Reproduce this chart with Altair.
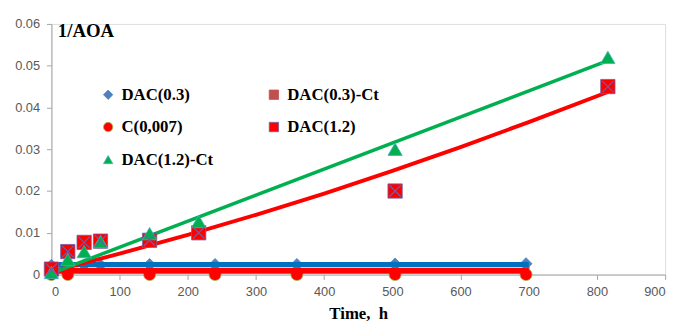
import altair as alt
import pandas as pd

# ---- data ----
series_names = ["DAC(0.3)", "DAC(0.3)-Ct", "C(0,007)", "DAC(1.2)", "DAC(1.2)-Ct"]
series_colors = ["#4F81BD", "#C0504D", "#FF0000", "#FF0000", "#00B050"]
series_strokes = ["#4F81BD", "#C0504D", "#9BBB59", "#7060A8", "#4BACC6"]
series_shapes = ["diamond", "square", "circle", "square", "triangle-up"]

dac03_t = [0, 24, 48, 72, 144, 240, 360, 504, 696]
dac03_v = [0.0022, 0.0023, 0.0023, 0.0023, 0.0024, 0.0024, 0.0024, 0.0025, 0.0026]

dac03ct_t = [0, 24, 48, 72, 144, 240, 360, 504, 696]
dac03ct_v = [0.0016, 0.0016, 0.0016, 0.0016, 0.0016, 0.0016, 0.0016, 0.0016, 0.0016]

c007_t = [0, 24, 144, 240, 360, 504, 696]
c007_v = [0.0, 0.0, 0.0, 0.0, 0.0, 0.0, 0.0]

dac12_t = [0, 24, 48, 72, 144, 216, 504, 816]
dac12_v = [0.0013, 0.0055, 0.0077, 0.0080, 0.0082, 0.0100, 0.0200, 0.0450]

dac12ct_t = [0, 24, 48, 72, 144, 216, 504, 816]
dac12ct_v = [0.0005, 0.0036, 0.0055, 0.0079, 0.0098, 0.0127, 0.0300, 0.0520]

# trend lines
trend_dac03_t = [0, 700]
trend_dac03_v = [0.0024, 0.0024]
trend_c007_t = [0, 700]
trend_c007_v = [0.0009, 0.0009]
trend_dac12_t = [0, 100, 200, 300, 400, 500, 600, 700, 816]
trend_dac12_v = [0.0007, 0.0050, 0.0095, 0.0143, 0.0194, 0.0248, 0.0305, 0.0365, 0.0437]
trend_dac12ct_t = [0, 816]
trend_dac12ct_v = [0.0003, 0.0512]

x_ticks = [0, 100, 200, 300, 400, 500, 600, 700, 800, 900]
y_ticks = [0, 0.01, 0.02, 0.03, 0.04, 0.05, 0.06]


def pts(name, t, v):
    return pd.DataFrame({"t": t, "v": v, "series": name})


hidden_df = pts("DAC(0.3)-Ct", dac03ct_t, dac03ct_v)
low_df = pd.concat([
    pts("DAC(0.3)", dac03_t, dac03_v),
    pts("C(0,007)", c007_t, c007_v),
])
high_df = pd.concat([
    pts("DAC(1.2)", dac12_t, dac12_v),
    pts("DAC(1.2)-Ct", dac12ct_t, dac12ct_v),
])
x_df = pts("DAC(1.2)", dac12_t, dac12_v)

xscale = alt.Scale(domain=[0, 900], nice=False)
yscale = alt.Scale(domain=[0, 0.06], nice=False)

X = alt.X("t:Q", scale=xscale, axis=alt.Axis(
    values=x_ticks, grid=False, title="Time, \u00a0h",
    labelFont="Liberation Sans", labelFontSize=13, labelColor="#595959",
    domainColor="#A6A6A6", tickColor="#A6A6A6", tickSize=5, labelPadding=6,
    titleFont="Liberation Serif", titleFontSize=17, titleFontWeight="bold",
    titleColor="#000000", titlePadding=8))
Y = alt.Y("v:Q", scale=yscale, axis=alt.Axis(
    values=y_ticks, grid=False, title="1/AOA",
    labelExpr="datum.value == 0 ? '0' : format(datum.value, '.2f')",
    labelFont="Liberation Sans", labelFontSize=13, labelColor="#595959",
    domainColor="#A6A6A6", tickColor="#A6A6A6", tickSize=5, labelPadding=7,
    titleFont="Liberation Serif", titleFontSize=19, titleFontWeight="bold",
    titleColor="#000000", titleAngle=0, titleAlign="left", titleBaseline="middle",
    titleX=6, titleY=7))

legend = alt.Legend(
    title=None, orient="none", legendX=49, legendY=63, columns=2,
    direction="horizontal",
    columnPadding=52, rowPadding=15, padding=0,
    labelFont="Liberation Serif", labelFontSize=17, labelFontWeight="bold",
    labelColor="#000000", symbolSize=90, labelOffset=5, symbolStrokeWidth=0.8)

color = alt.Color("series:N", scale=alt.Scale(domain=series_names, range=series_colors),
                  legend=legend, sort=series_names)
shape = alt.Shape("series:N", scale=alt.Scale(domain=series_names, range=series_shapes),
                  legend=legend, sort=series_names)
stroke = alt.Stroke("series:N", scale=alt.Scale(domain=series_names, range=series_strokes),
                    legend=None)

hidden_pts = alt.Chart(hidden_df).mark_point(filled=True, opacity=1, strokeWidth=0.8, size=40).encode(
    x=X, y=Y, color=color, shape=shape, stroke=stroke)
low_pts = alt.Chart(low_df).mark_point(filled=True, opacity=1, strokeWidth=0.8, size=150).encode(
    x=X, y=Y, color=color, shape=shape, stroke=stroke)
high_pts = alt.Chart(high_df).mark_point(filled=True, opacity=1, strokeWidth=0.8, size=210).encode(
    x=X, y=Y, color=color, shape=shape, stroke=stroke)
x_over = alt.Chart(x_df).mark_point(
    shape="M-0.8,-0.8L0.8,0.8M0.8,-0.8L-0.8,0.8", filled=False, size=210,
    stroke="#6A5FA8", strokeWidth=1.2, opacity=1).encode(x=X, y=Y)


def trend(t, v, col, w):
    return alt.Chart(pd.DataFrame({"t": t, "v": v})).mark_line(
        color=col, strokeWidth=w).encode(x=X, y=Y)


lines = [
    trend(trend_dac03_t, trend_dac03_v, "#0070C0", 5),
    trend(trend_c007_t, trend_c007_v, "#FF0000", 6),
    trend(trend_dac12_t, trend_dac12_v, "#FF0000", 4),
    trend(trend_dac12ct_t, trend_dac12ct_v, "#00B050", 3.5),
]

chart = alt.layer(hidden_pts, low_pts, *lines, high_pts, x_over).properties(
    width=622, height=254,
    autosize=alt.AutoSizeParams(type="none"),
    padding={"left": 44, "top": 14, "right": 10, "bottom": 50},
).configure_view(stroke=None).configure(background="white")

chart.save("out.html", embed_options={"renderer": "svg", "actions": False})
